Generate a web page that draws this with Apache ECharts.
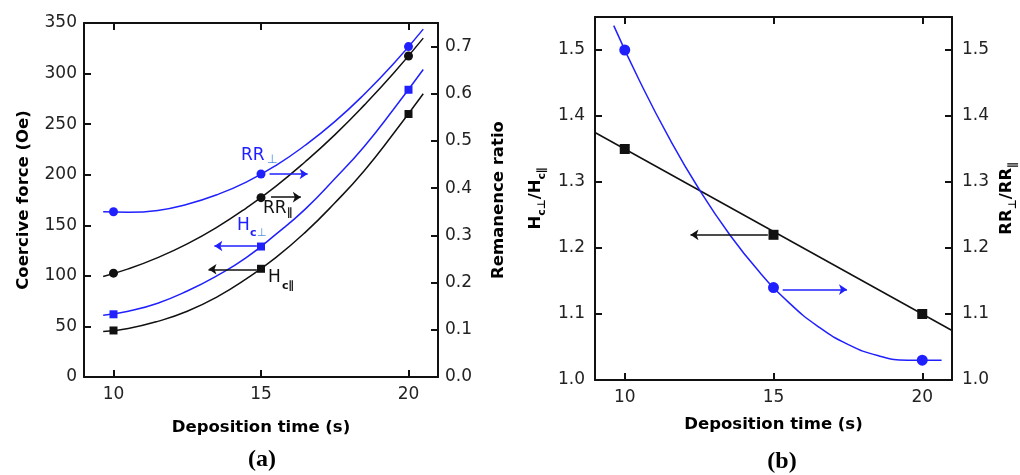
<!DOCTYPE html>
<html>
<head>
<meta charset="utf-8">
<script src="https://cdn.jsdelivr.net/npm/echarts@6/dist/echarts.min.js"></script>
<style>
  html, body { margin: 0; padding: 0; background: #fff; }
  #chart { width: 1020px; height: 475px; }
</style>
</head>
<body>
<div id="chart"></div>
<script>
// (a) measured points
const timeA = [10, 15, 20];
const hcPar = [46, 107, 260];
const hcPerp = [62, 129, 284];
const rrPar = [0.22, 0.38, 0.68];
const rrPerp = [0.35, 0.43, 0.70];

// (a) fitted curves
const fitTimeA = [9.65, 10.5, 11.5, 12.5, 13.5, 14.5, 15.5, 16.5, 17.5, 18.5, 19.5, 20.5];
const fitHcPar = [45, 48, 55, 65, 79, 97, 118, 143, 172, 204, 241, 280];
const fitHcPerp = [61, 65, 73, 85, 100, 118, 141, 166, 196, 228, 265, 304];
const fitRrPar = [0.213, 0.229, 0.253, 0.282, 0.317, 0.358, 0.404, 0.456, 0.513, 0.576, 0.644, 0.718];
const fitRrPerp = [0.350, 0.349, 0.353, 0.366, 0.386, 0.413, 0.448, 0.491, 0.541, 0.599, 0.664, 0.737];

// (b) ratios
const timeB = [10, 15, 20];
const hcRatio = [1.35, 1.22, 1.10];
const rrRatio = [1.50, 1.14, 1.03];
const fitTimeHc = [9, 21];
const fitHcRatio = [1.375, 1.075];
const fitTimeRr = [9.63, 10.5, 11.5, 12.5, 13.5, 14.5, 15.5, 16.5, 17.5, 18.5, 19.5, 20.65];
const fitRrRatio = [1.537, 1.453, 1.366, 1.289, 1.222, 1.165, 1.118, 1.081, 1.054, 1.037, 1.030, 1.030];

// tick labels
const timeTicks = [10, 15, 20];
const hcTicks = [0, 50, 100, 150, 200, 250, 300, 350];
const rrTicks = [0, 0.1, 0.2, 0.3, 0.4, 0.5, 0.6, 0.7];
const ratioTicks = [1.0, 1.1, 1.2, 1.3, 1.4, 1.5];

const font = 'DejaVu Sans';
const black = '#111';
const blue = '#2020ff';
const lightBlue = '#4a90e0';

const pairs = (xs, ys) => xs.map((x, i) => [x, ys[i]]);

const nameStyle = { fontFamily: font, fontWeight: 'bold', fontSize: 16.5, color: '#000' };
const subRich = {
    m: { fontFamily: font, fontWeight: 'bold', fontSize: 16.5, color: '#000', lineHeight: 24, verticalAlign: 'middle' },
    s: { fontFamily: font, fontWeight: 'bold', fontSize: 11, color: '#000', lineHeight: 11, verticalAlign: 'bottom' }
};
const axisLine = { onZero: false, lineStyle: { color: black, width: 2 } };
const tick = (vals) => ({ inside: true, length: 7, lineStyle: { color: black, width: 2 }, customValues: vals });
const label = (vals, margin, dec) => ({
    customValues: vals, margin: margin, fontFamily: font, fontSize: 17, color: '#222',
    formatter: (v) => dec ? v.toFixed(dec) : String(v)
});

function timeAxes(grid, nameGap, margin) {
    return [{
        type: 'value', gridIndex: grid, min: 9, max: 21, position: 'bottom',
        name: 'Deposition time (s)', nameLocation: 'middle', nameGap: nameGap, nameTextStyle: nameStyle,
        axisLine: axisLine, axisTick: tick(timeTicks), axisLabel: label(timeTicks, margin, 0),
        splitLine: { show: false }
    }, {
        type: 'value', gridIndex: grid, min: 9, max: 21, position: 'top',
        axisLine: axisLine, axisTick: tick(timeTicks), axisLabel: { show: false },
        splitLine: { show: false }
    }];
}

function arrow(color, from, to) {
    return {
        silent: true, animation: false, symbol: ['none', 'arrow'], symbolSize: 8,
        label: { show: false },
        lineStyle: { color: color, width: 1.5, type: 'solid' },
        emphasis: { disabled: true },
        data: [[{ coord: from }, { coord: to }]]
    };
}

function fitLine(x, y, xi, yi, color, smooth) {
    return {
        type: 'line', xAxisIndex: xi, yAxisIndex: yi, data: pairs(x, y),
        smooth: smooth, showSymbol: false, silent: true,
        lineStyle: { color: color, width: 1.5 }, z: 2
    };
}

function points(x, y, xi, yi, color, symbol, size, mark) {
    return {
        type: 'scatter', xAxisIndex: xi, yAxisIndex: yi, data: pairs(x, y),
        symbol: symbol, symbolSize: size, itemStyle: { color: color, opacity: 1 },
        silent: true, z: 3, markLine: mark
    };
}

function textAt(x, y, text, size, color, weight) {
    return {
        type: 'text', x: x, y: y,
        style: { text: text, fill: color, font: (weight || 'normal') + ' ' + size + 'px "' + font + '"' }
    };
}

var myChart = echarts.init(document.getElementById('chart'));

var option = {
    animation: false,
    grid: [
        { left: 84, top: 23, width: 354, height: 354 },
        { left: 595, top: 17, width: 362, height: 363 }
    ],
    xAxis: [].concat(timeAxes(0, 42, 9), timeAxes(1, 36, 9)),
    yAxis: [{
        type: 'value', gridIndex: 0, min: 0, max: 350, position: 'left',
        name: 'Coercive force (Oe)', nameLocation: 'middle', nameGap: 52, nameTextStyle: nameStyle,
        axisLine: axisLine, axisTick: tick(hcTicks), axisLabel: label(hcTicks, 7, 0),
        splitLine: { show: false }
    }, {
        type: 'value', gridIndex: 0, min: 0, max: 0.75, position: 'right',
        name: 'Remanence ratio', nameLocation: 'middle', nameGap: 52, nameTextStyle: nameStyle,
        axisLine: axisLine, axisTick: tick(rrTicks), axisLabel: label(rrTicks, 7, 1),
        splitLine: { show: false }
    }, {
        type: 'value', gridIndex: 1, min: 1.0, max: 1.55, position: 'left',
        name: '{m|H}{s|c⊥}{m|/H}{s|c∥}', nameLocation: 'middle', nameGap: 47,
        nameTextStyle: { rich: subRich },
        axisLine: axisLine, axisTick: tick(ratioTicks), axisLabel: label(ratioTicks, 10, 1),
        splitLine: { show: false }
    }, {
        type: 'value', gridIndex: 1, min: 1.0, max: 1.55, position: 'right',
        name: '{m|RR}{s|⊥}{m|/RR}{s|∥}', nameLocation: 'middle', nameGap: 43,
        nameTextStyle: { rich: subRich },
        axisLine: axisLine, axisTick: tick(ratioTicks), axisLabel: label(ratioTicks, 10, 1),
        splitLine: { show: false }
    }],
    series: [
        fitLine(fitTimeA, fitHcPar, 0, 0, black, true),
        fitLine(fitTimeA, fitHcPerp, 0, 0, blue, true),
        fitLine(fitTimeA, fitRrPar, 0, 1, black, true),
        fitLine(fitTimeA, fitRrPerp, 0, 1, blue, true),
        points(timeA, hcPar, 0, 0, black, 'rect', 8, arrow(black, [14.86, 106.5], [13.22, 106.5])),
        points(timeA, hcPerp, 0, 0, blue, 'rect', 8, arrow(blue, [14.86, 129.5], [13.42, 129.5])),
        points(timeA, rrPar, 0, 1, black, 'circle', 9, arrow(black, [15.34, 0.381], [16.35, 0.381])),
        points(timeA, rrPerp, 0, 1, blue, 'circle', 9, arrow(blue, [15.29, 0.43], [16.58, 0.43])),

        fitLine(fitTimeHc, fitHcRatio, 2, 2, black, false),
        fitLine(fitTimeRr, fitRrRatio, 2, 3, blue, true),
        points(timeB, hcRatio, 2, 2, black, 'rect', 10, arrow(black, [14.81, 1.22], [12.21, 1.22])),
        points(timeB, rrRatio, 2, 3, blue, 'circle', 11, arrow(blue, [15.31, 1.137], [17.47, 1.137]))
    ],
    graphic: [
        // curve labels in (a)
        textAt(241, 147, 'RR', 17, blue),
        textAt(267, 154, '⊥', 12, lightBlue),
        textAt(263, 200, 'RR', 17, black),
        textAt(287, 208, '∥', 11, black, 'bold'),
        textAt(237, 217, 'H', 17, blue),
        textAt(250, 228, 'c', 11, blue, 'bold'),
        textAt(257, 228, '⊥', 11, lightBlue),
        textAt(268, 269, 'H', 17, black),
        textAt(282, 281, 'c∥', 11, black, 'bold'),
        // panel tags
        {
            type: 'text', x: 262, y: 460,
            style: { text: '(a)', fill: '#000', font: 'bold 24px "Liberation Serif"', align: 'center', verticalAlign: 'middle' }
        },
        {
            type: 'text', x: 782, y: 462,
            style: { text: '(b)', fill: '#000', font: 'bold 24px "Liberation Serif"', align: 'center', verticalAlign: 'middle' }
        }
    ]
};

myChart.setOption(option);
</script>
</body>
</html>
